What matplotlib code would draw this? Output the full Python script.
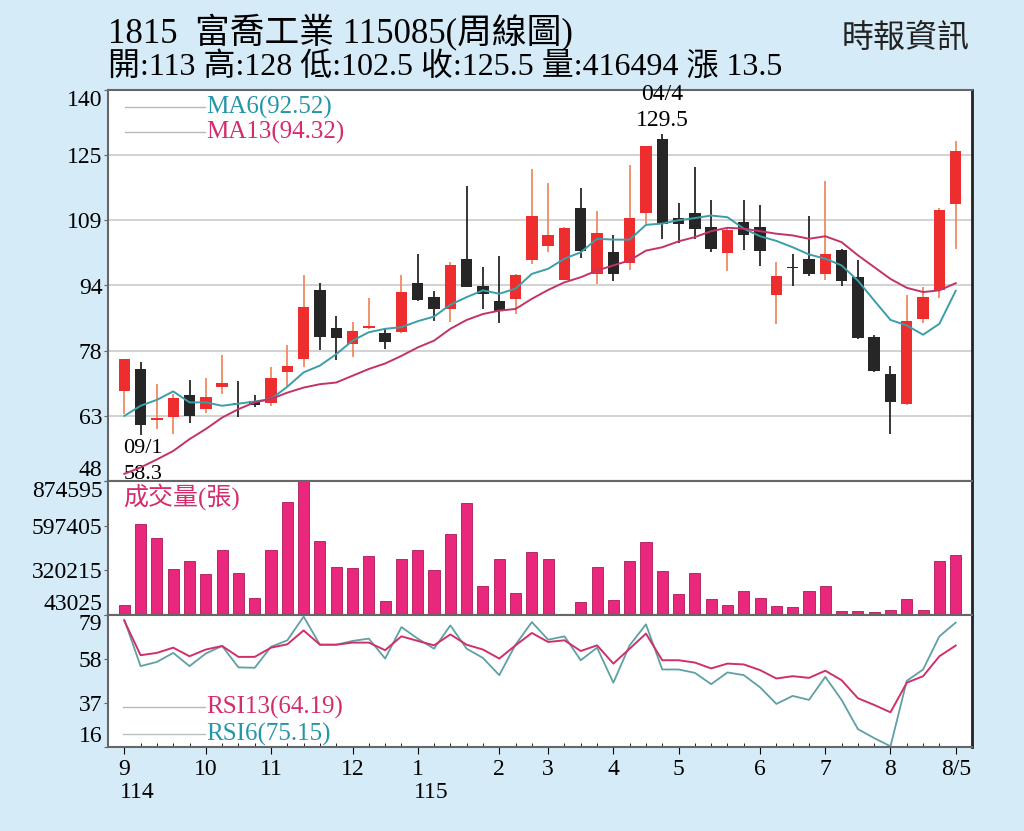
import matplotlib
matplotlib.use('Agg')
import matplotlib.pyplot as plt
import numpy as np

plt.rcParams['font.family'] = ['Liberation Serif', 'Noto Sans CJK TC']

# weekly candles, 52 weeks
opens = [68.8, 74.0, 61.9, 62.7, 67.9, 64.5, 69.8, 65.8, 66.5, 65.9,
         73.2, 76.4, 92.6, 83.6, 79.8, 83.6, 82.5, 82.8, 94.3, 91.0,
         88.2, 100.1, 93.6, 90.0, 90.6, 99.7, 103.2, 95.1, 112.2, 96.4,
         101.6, 99.1, 110.9, 128.4, 109.7, 110.8, 107.7, 101.4, 108.8, 107.7,
         91.6, 97.9, 100.1, 96.5, 102.2, 95.7, 81.6, 72.8, 65.7, 85.8,
         92.7, 113.0]
highs = [76.4, 75.6, 70.4, 68.0, 71.4, 71.8, 77.4, 71.2, 67.9, 74.4,
         79.7, 96.3, 94.3, 86.6, 85.0, 90.8, 83.5, 96.3, 101.3, 92.4,
         99.3, 117.3, 98.1, 100.7, 96.5, 121.4, 117.9, 107.5, 116.7, 111.3,
         105.8, 122.2, 126.8, 129.5, 113.3, 121.8, 113.9, 107.6, 113.9, 112.7,
         99.3, 101.3, 110.3, 118.4, 102.5, 99.7, 82.1, 74.8, 91.5, 93.5,
         112.0, 128.0]
lows = [63.4, 58.3, 59.8, 58.6, 61.3, 63.5, 68.1, 62.7, 64.9, 65.3,
        70.0, 74.4, 78.5, 76.1, 76.9, 83.5, 78.7, 82.6, 90.2, 85.3,
        85.0, 93.3, 88.1, 84.9, 86.9, 98.9, 101.6, 95.0, 100.3, 94.0,
        94.7, 97.3, 108.4, 104.7, 103.9, 104.7, 101.6, 97.1, 102.2, 98.3,
        84.7, 93.7, 95.9, 95.1, 93.7, 81.2, 73.4, 58.7, 65.5, 84.8,
        90.7, 102.5]
closes = [76.4, 60.8, 62.5, 67.1, 62.9, 67.4, 70.8, 65.6, 65.5, 71.8,
          74.6, 88.6, 81.6, 81.3, 83.1, 84.1, 80.5, 92.3, 90.4, 88.1,
          98.5, 93.5, 91.8, 87.7, 96.3, 110.2, 105.8, 107.3, 101.9, 106.2,
          96.5, 109.7, 126.7, 108.4, 108.4, 107.0, 102.5, 106.8, 105.8, 101.9,
          95.9, 97.8, 96.5, 101.3, 94.8, 81.3, 73.6, 66.1, 85.4, 91.1,
          111.7, 125.5]

ma6 = [62.9, 65.3, 66.7, 68.7, 66.1, 66.1, 65.3, 65.8, 66.3, 66.9,
       69.8, 73.2, 74.8, 77.5, 80.7, 82.7, 83.5, 83.9, 85.3, 86.4,
       89.2, 91.0, 92.6, 91.8, 93.0, 96.5, 97.7, 100.1, 101.6, 104.8,
       104.6, 104.6, 108.1, 108.4, 109.2, 109.7, 110.3, 109.9, 107.2, 105.4,
       104.3, 102.8, 101.1, 100.1, 98.5, 94.9, 90.2, 85.6, 84.3, 82.1,
       84.7, 92.5]
ma13 = [49.2, 50.7, 52.6, 54.6, 57.4, 59.8, 62.5, 64.5, 66.1, 66.9,
        68.4, 69.6, 70.4, 70.8, 72.4, 74.0, 75.3, 77.1, 79.1, 80.7,
        83.5, 85.6, 87.0, 87.8, 88.2, 90.6, 92.7, 94.5, 95.7, 97.3,
        98.5, 99.7, 102.0, 102.8, 104.2, 105.2, 106.6, 107.4, 107.2, 106.6,
        106.0, 105.6, 104.8, 105.4, 104.0, 100.9, 98.1, 95.3, 93.2, 92.2,
        92.6, 94.3]

volume = [102000, 607000, 518000, 325000, 376000, 295000, 445000, 303000, 144000, 445000,
          744000, 874595, 503000, 341000, 335000, 407000, 127000, 387000, 445000, 320000,
          543000, 736000, 221000, 387000, 179000, 434000, 389000, 0, 119000, 341000,
          133000, 376000, 493000, 314000, 171000, 300000, 140000, 102000, 189000, 148000,
          96000, 88000, 191000, 221000, 65000, 65000, 59000, 71000, 141000, 71000,
          378000, 416494]

rsi13 = [76.0, 59.6, 60.7, 63.2, 59.1, 62.3, 64.0, 58.8, 58.8, 63.2,
         64.8, 71.4, 64.6, 64.6, 65.6, 65.6, 62.0, 68.6, 66.4, 64.3,
         69.5, 64.6, 62.3, 58.0, 64.3, 70.2, 65.9, 66.7, 61.6, 64.3,
         55.6, 62.7, 69.9, 57.2, 57.2, 56.1, 53.3, 55.6, 55.2, 52.5,
         48.5, 49.6, 48.8, 52.2, 47.7, 39.1, 35.9, 32.4, 46.5, 49.6,
         59.1, 64.19]
rsi6 = [76.5, 54.4, 56.4, 60.7, 54.4, 60.4, 64.0, 53.8, 53.6, 63.6,
        66.7, 78.0, 64.6, 64.6, 66.4, 67.5, 58.0, 73.0, 67.5, 62.7,
        73.8, 62.7, 58.3, 50.1, 64.6, 75.4, 67.0, 68.6, 57.2, 63.2,
        46.5, 64.3, 74.3, 52.8, 52.8, 51.2, 45.8, 51.4, 50.1, 44.3,
        36.4, 40.2, 38.3, 49.3, 38.3, 24.4, 20.1, 16.2, 47.4, 52.8,
        68.6, 75.15]

month_pos = [0, 5, 9, 14, 18, 23, 26, 30, 34, 39, 43, 47, 51]
month_labels = ['9', '10', '11', '12', '1', '2', '3', '4', '5', '6', '7', '8', '8/5']
year_pos = [0, 18]
year_labels = ['114', '115']

price_levels = [47.5, 62.92, 78.33, 93.75, 109.17, 124.58, 140.0]
price_labels = ['48', '63', '78', '94', '109', '125', '140']
vol_levels = [43025, 320215, 597405, 874595]
rsi_levels = [16, 37, 58, 79]

BG = '#d5ebf8'
RED = '#ee2e2e'
RED_WICK = '#ef8a62'
BLACK = '#262626'
TEAL = '#2596aa'
CRIMSON = '#d42c6c'
PINK = '#e8277d'
SPINE = '#666666'

fig = plt.figure(figsize=(10.24, 8.31), dpi=100, facecolor=BG)
L, W = 108 / 1024, 864 / 1024
ax_p = fig.add_axes([L, 1 - 481 / 831, W, 391 / 831])
ax_v = fig.add_axes([L, 1 - 614.5 / 831, W, 133.5 / 831], sharex=ax_p)
ax_r = fig.add_axes([L, 1 - 746.7 / 831, W, 132.2 / 831], sharex=ax_p)

x = np.arange(len(closes))
o = np.array(opens)
c = np.array(closes)
up = c >= o

# ---- price pane
for lv in price_levels[1:-1]:
    ax_p.axhline(lv, color='#cfcfcf', lw=1.3, zorder=0)
ax_p.vlines(x[up], np.array(lows)[up], np.array(highs)[up], color=RED_WICK, lw=1.3, zorder=2)
ax_p.vlines(x[~up], np.array(lows)[~up], np.array(highs)[~up], color=BLACK, lw=1.3, zorder=2)
body = np.maximum(np.abs(c - o), 0.35)
ax_p.bar(x, body, bottom=np.minimum(o, c), width=0.7,
         color=[RED if u else BLACK for u in up], zorder=3)
ax_p.plot(x, ma6, color='#3b9ea8', lw=1.4, zorder=4)
ax_p.plot(x, ma13, color='#c4326a', lw=1.4, zorder=4)

ax_p.plot([0.02, 0.112], [0.9565, 0.9565], transform=ax_p.transAxes, color='#b8b8b8', lw=1)
ax_p.plot([0.02, 0.112], [0.8926, 0.8926], transform=ax_p.transAxes, color='#b8b8b8', lw=1)
ax_p.text(0.114, 0.9565, 'MA6(92.52)', transform=ax_p.transAxes, color=TEAL,
          fontsize=18, va='center', ha='left')
ax_p.text(0.114, 0.8926, 'MA13(94.32)', transform=ax_p.transAxes, color=CRIMSON,
          fontsize=18, va='center', ha='left')

lo_i = int(np.argmin(lows))
hi_i = int(np.argmax(highs))
ax_p.annotate('09/1', (x[lo_i], lows[lo_i]), xytext=(-17, -13), textcoords='offset pixels',
              fontsize=16, ha='left', va='center')
ax_p.annotate('%.1f' % lows[lo_i], (x[lo_i], lows[lo_i]), xytext=(-17, -39),
              textcoords='offset pixels', fontsize=16, ha='left', va='center')
ax_p.annotate('04/4', (x[hi_i], highs[hi_i]), xytext=(0, 40), textcoords='offset pixels',
              fontsize=17, ha='center', va='center')
ax_p.annotate('%.1f' % highs[hi_i], (x[hi_i], highs[hi_i]), xytext=(0, 14),
              textcoords='offset pixels', fontsize=17, ha='center', va='center')

ax_p.set_ylim(price_levels[0], price_levels[-1])
ax_p.set_yticks(price_levels)
ax_p.set_yticklabels(price_labels)

# ---- volume pane
ax_v.bar(x, volume, width=0.68, color=PINK, edgecolor='#a81a55', lw=0.6)
ax_v.set_ylim(vol_levels[0], vol_levels[-1])
ax_v.set_yticks(vol_levels)
ax_v.set_yticklabels([str(v) for v in vol_levels])
ax_v.text(0.017, 0.88, '成交量(張)', transform=ax_v.transAxes, color=CRIMSON,
          fontsize=18, va='center', ha='left')

# ---- RSI pane
ax_r.plot(x, rsi6, color='#5fa0a4', lw=1.3)
ax_r.plot(x, rsi13, color='#d0306a', lw=1.4)
ax_r.set_ylim(rsi_levels[0], rsi_levels[-1])
ax_r.set_yticks(rsi_levels)
ax_r.set_yticklabels([str(v) for v in rsi_levels])
ax_r.plot([0.017, 0.112], [0.30, 0.30], transform=ax_r.transAxes, color='#c8b0b8', lw=1)
ax_r.plot([0.017, 0.112], [0.096, 0.096], transform=ax_r.transAxes, color='#b8c0c0', lw=1)
ax_r.text(0.114, 0.30, 'RSI13(64.19)', transform=ax_r.transAxes, color=CRIMSON,
          fontsize=18, va='center', ha='left')
ax_r.text(0.114, 0.096, 'RSI6(75.15)', transform=ax_r.transAxes, color=TEAL,
          fontsize=18, va='center', ha='left')

ax_r.set_xlim(-1, 52)
ax_r.set_xticks(month_pos)
ax_r.set_xticklabels(month_labels)
ax_r.set_xticks(x, minor=True)
ax_r.tick_params(axis='x', which='major', direction='out', length=5, labelsize=17, pad=4)
ax_r.tick_params(axis='x', which='minor', direction='in', length=3)
for p, s in zip(year_pos, year_labels):
    ax_r.text(p - 0.25, -0.35, s, transform=ax_r.get_xaxis_transform(), fontsize=17,
              ha='left', va='center')

for ax in (ax_p, ax_v, ax_r):
    ax.set_facecolor('white')
    ax.tick_params(axis='y', direction='out', length=3, labelsize=17, pad=1, color=SPINE)
    for s in ax.spines.values():
        s.set_color(SPINE)
        s.set_linewidth(1.5)
    ax.spines['right'].set_color('#222222')
    ax.spines['right'].set_linewidth(2)
for ax in (ax_p, ax_v):
    ax.tick_params(axis='x', which='both', bottom=False, labelbottom=False)

for ax in (ax_p, ax_v, ax_r):
    labs = ax.get_yticklabels()
    labs[0].set_va('bottom')
    labs[-1].set_va('top')

# ---- header
fig.text(108 / 1024, 1 - 33 / 831, '1815  富喬工業 115085(周線圖)', fontsize=25,
         ha='left', va='center')
fig.text(108 / 1024, 1 - 68 / 831, '開:113 高:128 低:102.5 收:125.5 量:416494 漲 13.5',
         fontsize=23, ha='left', va='center')
fig.text(970 / 1024, 1 - 38 / 831, '時報資訊', fontsize=23, ha='right', va='center',
         family='Noto Sans CJK TC', color='#222222')

fig.savefig('out.png', dpi=100, facecolor=BG)
